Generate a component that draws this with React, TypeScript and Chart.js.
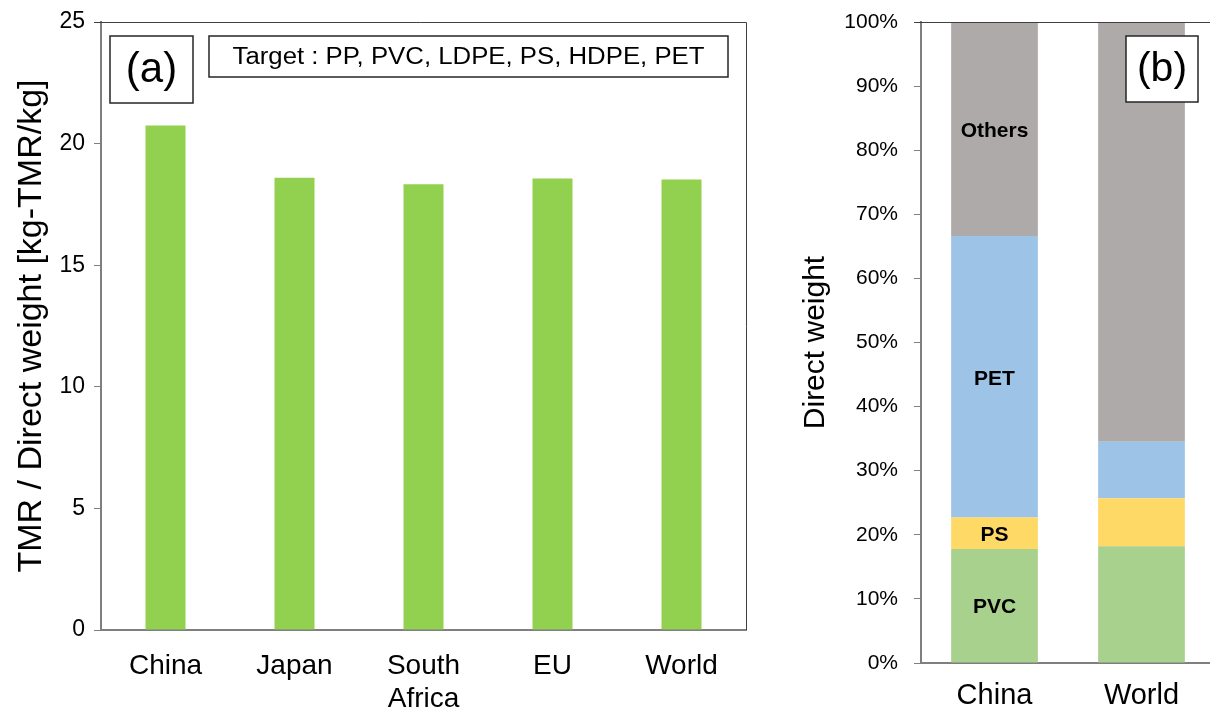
import React, { useEffect, useRef } from 'react';
import { Chart, registerables } from 'chart.js';

Chart.register(...registerables);

// Panel (a): TMR per unit of direct weight, by region
const regions: (string | string[])[] = ['China', 'Japan', ['South', 'Africa'], 'EU', 'World'];
const tmrPerWeight = [20.74, 18.6, 18.33, 18.56, 18.52];
const tmrTicks = [0, 5, 10, 15, 20, 25];

// Panel (b): share of direct weight by resin (%)
const shareRegions = ['China', 'World'];
const pvcShare = [17.8, 18.2];
const psShare = [4.9, 7.5];
const petShare = [43.9, 8.8];
const othersShare = [33.4, 65.5];
const resinNames = ['PVC', 'PS', 'PET', 'Others'];
const targetNote = 'Target : PP, PVC, LDPE, PS, HDPE, PET';

const FONT = "'Liberation Sans', Arial, sans-serif";
const AXIS = '#7f7f7f';

function drawBox(
  ctx: CanvasRenderingContext2D,
  x: number,
  y: number,
  w: number,
  h: number,
  text: string,
  size: number,
  stretch = 1
) {
  ctx.save();
  ctx.fillStyle = '#ffffff';
  ctx.fillRect(x, y, w, h);
  ctx.strokeStyle = '#262626';
  ctx.lineWidth = 1.5;
  ctx.strokeRect(x, y, w, h);
  ctx.fillStyle = '#000000';
  ctx.font = `${size}px ${FONT}`;
  ctx.textAlign = 'center';
  ctx.textBaseline = 'middle';
  ctx.translate(x + w / 2, y + h / 2 + 1);
  ctx.scale(stretch, 1);
  ctx.fillText(text, 0, 0);
  ctx.restore();
}

const frameA = {
  id: 'frameA',
  afterDraw(chart: any) {
    const { ctx, chartArea } = chart;
    ctx.save();
    ctx.strokeStyle = '#404040';
    ctx.lineWidth = 1;
    ctx.beginPath();
    ctx.moveTo(chartArea.left - 7, chartArea.top + 0.5);
    ctx.lineTo(chartArea.right + 0.5, chartArea.top + 0.5);
    ctx.lineTo(chartArea.right + 0.5, chartArea.bottom);
    ctx.stroke();
    ctx.restore();
    drawBox(ctx, 110, 36, 83, 67, '(a)', 42);
    drawBox(ctx, 209, 36, 519, 41, targetNote, 23, 1.12);
  },
};

const frameB = {
  id: 'frameB',
  afterDraw(chart: any) {
    const { ctx, chartArea } = chart;
    ctx.save();
    ctx.strokeStyle = '#404040';
    ctx.lineWidth = 1;
    ctx.beginPath();
    ctx.moveTo(chartArea.left - 7, chartArea.top + 0.5);
    ctx.lineTo(chart.width, chartArea.top + 0.5);
    ctx.stroke();
    ctx.restore();
    drawBox(ctx, 366, 36, 72, 66, '(b)', 41);
  },
};

const resinLabels = {
  id: 'resinLabels',
  afterDatasetsDraw(chart: any) {
    const { ctx } = chart;
    ctx.save();
    ctx.fillStyle = '#000000';
    ctx.font = `bold 21px ${FONT}`;
    ctx.textAlign = 'center';
    ctx.textBaseline = 'middle';
    chart.data.datasets.forEach((ds: any, i: number) => {
      const bar = chart.getDatasetMeta(i).data[0];
      if (!bar) return;
      const cy = (bar.y + bar.base) / 2;
      ctx.fillText(ds.label, bar.x, cy + 2);
    });
    ctx.restore();
  },
};

function PanelA() {
  const ref = useRef<HTMLCanvasElement>(null);
  useEffect(() => {
    const chart = new Chart(ref.current!, {
      type: 'bar',
      data: {
        labels: regions as any,
        datasets: [
          {
            data: tmrPerWeight,
            backgroundColor: '#92D050',
            barPercentage: 0.31,
            categoryPercentage: 1,
          },
        ],
      },
      options: {
        animation: false,
        responsive: false,
        devicePixelRatio: 1,
        layout: { padding: { top: 22, right: 14, left: 0, bottom: 0 } },
        plugins: { legend: { display: false }, tooltip: { enabled: false } },
        scales: {
          x: {
            grid: { drawOnChartArea: false, drawTicks: false },
            border: { color: AXIS, width: 2 },
            ticks: { color: '#000', font: { family: FONT, size: 28 }, padding: 19, maxRotation: 0 },
            afterFit: (s: any) => {
              s.height = 83;
            },
          },
          y: {
            min: 0,
            max: 25,
            afterBuildTicks: (s: any) => {
              s.ticks = tmrTicks.map((v) => ({ value: v }));
            },
            ticks: { color: '#000', font: { family: FONT, size: 23 }, padding: 9 },
            grid: { drawOnChartArea: false, tickLength: 7, color: AXIS },
            border: { color: AXIS, width: 2 },
            title: {
              display: true,
              text: 'TMR / Direct weight [kg-TMR/kg]',
              color: '#000',
              font: { family: FONT, size: 34 },
              padding: { top: 11, bottom: 0 },
            },
            afterFit: (s: any) => {
              s.width = 101;
              s.paddingTop = 0;
              s.paddingBottom = 0;
            },
          },
        },
      },
      plugins: [frameA],
    });
    return () => chart.destroy();
  }, []);
  return <canvas ref={ref} width={760} height={713} style={{ position: 'absolute', left: 0, top: 0, width: 760, height: 713 }} />;
}

function PanelB() {
  const ref = useRef<HTMLCanvasElement>(null);
  useEffect(() => {
    const series = [pvcShare, psShare, petShare, othersShare];
    const colors = ['#A9D18E', '#FFD966', '#9DC3E6', '#AEAAAA'];
    const chart = new Chart(ref.current!, {
      type: 'bar',
      data: {
        labels: shareRegions,
        datasets: series.map((d, i) => ({
          label: resinNames[i],
          data: d,
          backgroundColor: colors[i],
          barPercentage: 0.59,
          categoryPercentage: 1,
        })),
      },
      options: {
        animation: false,
        responsive: false,
        devicePixelRatio: 1,
        layout: { padding: { top: 22, right: 15, left: 0, bottom: 0 } },
        plugins: { legend: { display: false }, tooltip: { enabled: false } },
        scales: {
          x: {
            stacked: true,
            grid: { drawOnChartArea: false, drawTicks: false },
            border: { color: AXIS, width: 2 },
            ticks: { color: '#000', font: { family: FONT, size: 29 }, padding: 16 },
            afterFit: (s: any) => {
              s.height = 50;
            },
          },
          y: {
            stacked: true,
            min: 0,
            max: 100,
            ticks: {
              stepSize: 10,
              color: '#000',
              font: { family: FONT, size: 21 },
              padding: 16,
              callback: (v: any) => `${v}%`,
            },
            grid: { drawOnChartArea: false, tickLength: 7, color: AXIS },
            border: { color: AXIS, width: 2 },
            title: {
              display: true,
              text: 'Direct weight',
              color: '#000',
              font: { family: FONT, size: 30 },
              padding: { top: 38, bottom: 0 },
            },
            afterFit: (s: any) => {
              s.width = 161;
              s.paddingTop = 0;
              s.paddingBottom = 0;
            },
          },
        },
      },
      plugins: [resinLabels, frameB],
    });
    return () => chart.destroy();
  }, []);
  return <canvas ref={ref} width={470} height={713} style={{ position: 'absolute', left: 760, top: 0, width: 470, height: 713 }} />;
}

export default function App() {
  return (
    <div style={{ position: 'fixed', left: 0, top: 0, width: 1210, height: 713, overflow: 'hidden', background: '#fff' }}>
      <PanelA />
      <PanelB />
    </div>
  );
}
